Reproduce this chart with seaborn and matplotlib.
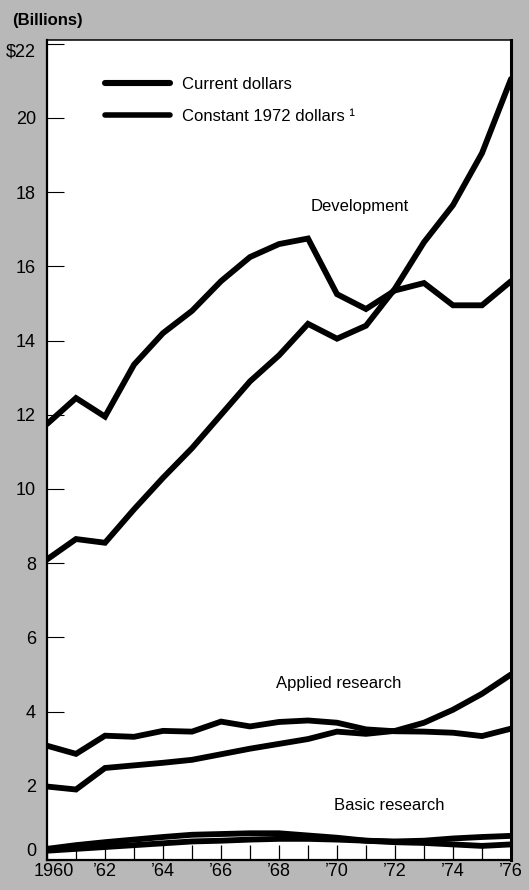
import matplotlib
matplotlib.use("Agg")
import matplotlib.pyplot as plt
import matplotlib.transforms as mtransforms
from matplotlib.lines import Line2D
from matplotlib.ticker import FixedLocator
import seaborn as sns
import pandas as pd

years = list(range(1960, 1977))
dev_current = [8.1, 8.65, 8.55, 9.45, 10.3, 11.1, 12.0, 12.9, 13.6, 14.45, 14.05, 14.4, 15.4, 16.65, 17.65, 19.05, 21.05]
dev_constant = [11.75, 12.45, 11.95, 13.35, 14.2, 14.8, 15.6, 16.25, 16.6, 16.75, 15.25, 14.85, 15.35, 15.55, 14.95, 14.95, 15.6]
app_current = [1.98, 1.9, 2.48, 2.55, 2.62, 2.7, 2.85, 3.0, 3.13, 3.26, 3.46, 3.4, 3.48, 3.7, 4.05, 4.48, 5.0]
app_constant = [3.08, 2.86, 3.35, 3.32, 3.48, 3.46, 3.73, 3.6, 3.72, 3.76, 3.7, 3.52, 3.47, 3.46, 3.43, 3.34, 3.54]
basic_current = [0.25, 0.3, 0.35, 0.4, 0.45, 0.5, 0.52, 0.55, 0.57, 0.57, 0.55, 0.52, 0.5, 0.52, 0.58, 0.62, 0.65]
basic_constant = [0.3, 0.4, 0.48, 0.55, 0.62, 0.68, 0.7, 0.72, 0.72, 0.66, 0.6, 0.52, 0.48, 0.46, 0.42, 0.38, 0.42]

components = ["Development", "Applied research", "Basic research"]
legend_labels = ["Current dollars", "Constant 1972 dollars \u00b9"]
y_ticks = [0, 2, 4, 6, 8, 10, 12, 14, 16, 18, 20, 22]
y_ticklabels = ["0", "2", "4", "6", "8", "10", "12", "14", "16", "18", "20", "$22"]
x_major = list(range(1960, 1977, 2))
x_ticklabels = ["1960", "\u201962", "\u201964", "\u201966", "\u201968", "\u201970", "\u201972", "\u201974", "\u201976"]

series = {
    ("Development", "current"): dev_current,
    ("Development", "constant"): dev_constant,
    ("Applied research", "current"): app_current,
    ("Applied research", "constant"): app_constant,
    ("Basic research", "current"): basic_current,
    ("Basic research", "constant"): basic_constant,
}
rows = []
for (comp, kind), vals in series.items():
    for y, v in zip(years, vals):
        rows.append({"year": y, "value": v, "series": f"{comp} {kind}", "kind": kind})
df = pd.DataFrame(rows)

sns.set_theme(style="white", rc={"text.color": "black", "axes.labelcolor": "black",
                                 "xtick.color": "black", "ytick.color": "black"})
FONT = ["Liberation Sans", "DejaVu Sans"]
plt.rcParams["font.family"] = FONT
FS = 12

fig = plt.figure(figsize=(5.29, 8.9), dpi=100)
fig.patch.set_facecolor("#b8b8b8")
ax = fig.add_axes([47 / 529, 30 / 890, 464 / 529, 820 / 890])
ax.set_facecolor("white")

sns.lineplot(data=df, x="year", y="value", hue="series",
             palette=["black"] * 6, linewidth=4.2, legend=False, ax=ax,
             solid_joinstyle="miter")

ax.set_xlim(1960, 1976)
ax.set_ylim(0, 22.1)
ax.set_xlabel("")
ax.set_ylabel("")

ax.xaxis.set_major_locator(FixedLocator(x_major))
ax.xaxis.set_minor_locator(FixedLocator([y for y in years if y % 2 == 1]))
ax.set_xticklabels(x_ticklabels)
ax.set_yticks(y_ticks)
ax.set_yticklabels(y_ticklabels)

ax.tick_params(axis="x", which="both", direction="in", length=11, width=0.9,
               color="black", pad=2, labelsize=FS + 1, labelcolor="black")
ax.tick_params(axis="y", which="major", direction="in", length=12.5, width=0.8,
               color="black", pad=8, labelsize=FS + 1, labelcolor="black")
ax.tick_params(left=True, bottom=True)
ax.xaxis.set_tick_params(which="minor", bottom=True)

ylabs = ax.get_yticklabels()
ylabs[0].set_va("bottom")
ylabs[-1].set_va("top")
xlabs = ax.get_xticklabels()
shift = mtransforms.ScaledTranslation(7 / 100, 0, fig.dpi_scale_trans)
xlabs[0].set_transform(xlabs[0].get_transform() + shift)

for side, w in {"left": 1.6, "bottom": 1.6, "right": 2.2, "top": 1.1}.items():
    ax.spines[side].set_visible(True)
    ax.spines[side].set_color("black")
    ax.spines[side].set_linewidth(w)

handles = [Line2D([], [], color="black", linewidth=4.4),
           Line2D([], [], color="black", linewidth=4.0)]
leg = ax.legend(handles, legend_labels, loc="upper left", bbox_to_anchor=(0.125, 0.955),
                frameon=False, fontsize=FS, handlelength=3.9, handletextpad=0.7,
                labelspacing=1.0, borderpad=0, borderaxespad=0)
for t in leg.get_texts():
    t.set_color("black")

ax.text(1970.8, 17.6, "Development", ha="center", va="center", fontsize=FS, color="black")
ax.text(1970.05, 4.77, "Applied research", ha="center", va="center", fontsize=FS, color="black")
ax.text(1971.8, 1.48, "Basic research", ha="center", va="center", fontsize=FS, color="black")

fig.text(12 / 529, 1 - 20 / 890, "(Billions)", ha="left", va="center", fontsize=FS,
         fontweight="bold", color="black")

fig.savefig("out.png", dpi=100, facecolor=fig.get_facecolor())
